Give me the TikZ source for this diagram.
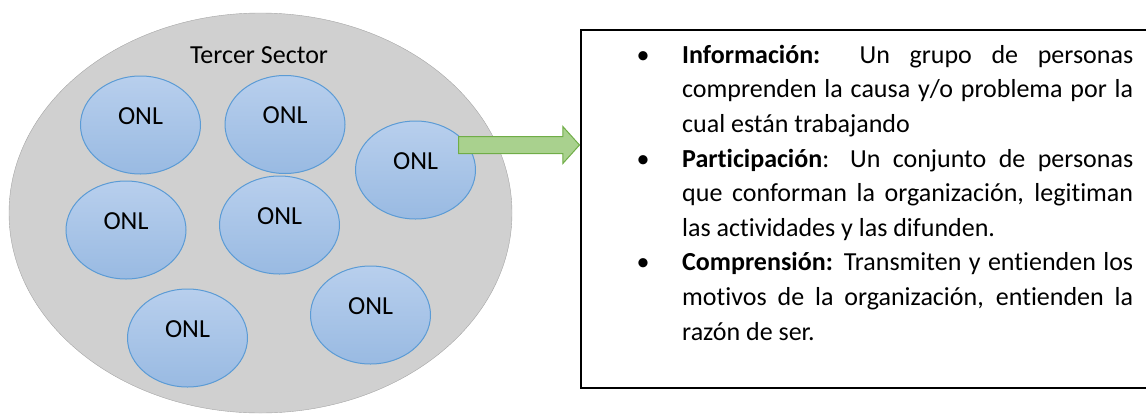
\documentclass[tikz,border=0pt]{standalone}
\usepackage{fontspec}
\setmainfont{Carlito}[Ligatures=NoCommon]
\usetikzlibrary{shapes.geometric,shapes.arrows}
\definecolor{grisfondo}{RGB}{208,208,208}
\definecolor{grisborde}{RGB}{165,165,165}
\definecolor{azulclaro}{RGB}{184,207,237}
\definecolor{azuloscuro}{RGB}{153,186,226}
\definecolor{azulborde}{RGB}{91,155,213}
\definecolor{verdeflecha}{RGB}{169,209,142}
\definecolor{verdeborde}{RGB}{112,173,71}
\newcommand\vineta{\leavevmode\llap{\makebox[0pt]{\textbullet}\hspace{39pt}}}

\begin{document}
\begin{tikzpicture}[x=1pt, y=-1pt,
                every node/.style = {font=\fontsize{26}{34.6}\selectfont},
                sector/.style = {ellipse, draw=grisborde, fill=grisfondo, minimum width=503pt, minimum height=400pt},
                onl/.style = {ellipse, draw=azulborde, line width=1pt, top color=azulclaro, bottom color=azuloscuro,
                              minimum width=120pt, minimum height=98pt, text depth=18pt},
                flecha/.style = {single arrow, draw=verdeborde, fill=verdeflecha, line width=1pt, minimum height=121pt,
                                 inner xsep=0pt, inner ysep=8pt, single arrow head extend=10pt, single arrow tip angle=96},
                cuadro/.style = {draw, line width=1.5pt, minimum width=660pt, minimum height=358pt}
                ]
                \clip (0,0) rectangle (1146,413);
                \node[sector] (sector) at (260.5,213) {};
                \node (titulo) at (259,55) {Tercer Sector};
                \node[onl] (onl1) at (140.5,125) {ONL};
                \node[onl] (onl2) at (285,124.5) {ONL};
                \node[onl] (onl3) at (415.5,170) {ONL};
                \node[onl] (onl4) at (126,230) {ONL};
                \node[onl] (onl5) at (279.5,225) {ONL};
                \node[onl] (onl6) at (187.5,338) {ONL};
                \node[onl] (onl7) at (370.5,315) {ONL};
                \node[cuadro, anchor=north west] (cuadro) at (580,29) {};
                \node[flecha, anchor=tail] (fl) at (458,145) {};
                \node[anchor=base west, text width=451pt, align=justify, inner sep=0pt] (lista) at (682,63.3) {%
                    \vineta\textbf{Información:}\ \ Un grupo de personas\linebreak
                    comprenden la causa y/o problema por la\linebreak
                    cual están trabajando\par
                    \vineta\textbf{Participación}: Un conjunto de personas\linebreak
                    que conforman la organización, legitiman\linebreak
                    las actividades y las difunden.\par
                    \vineta\textbf{Comprensión:} Transmiten y entienden los\linebreak
                    motivos de la organización, entienden la\linebreak
                    razón de ser.};
            \end{tikzpicture}
\end{document}
